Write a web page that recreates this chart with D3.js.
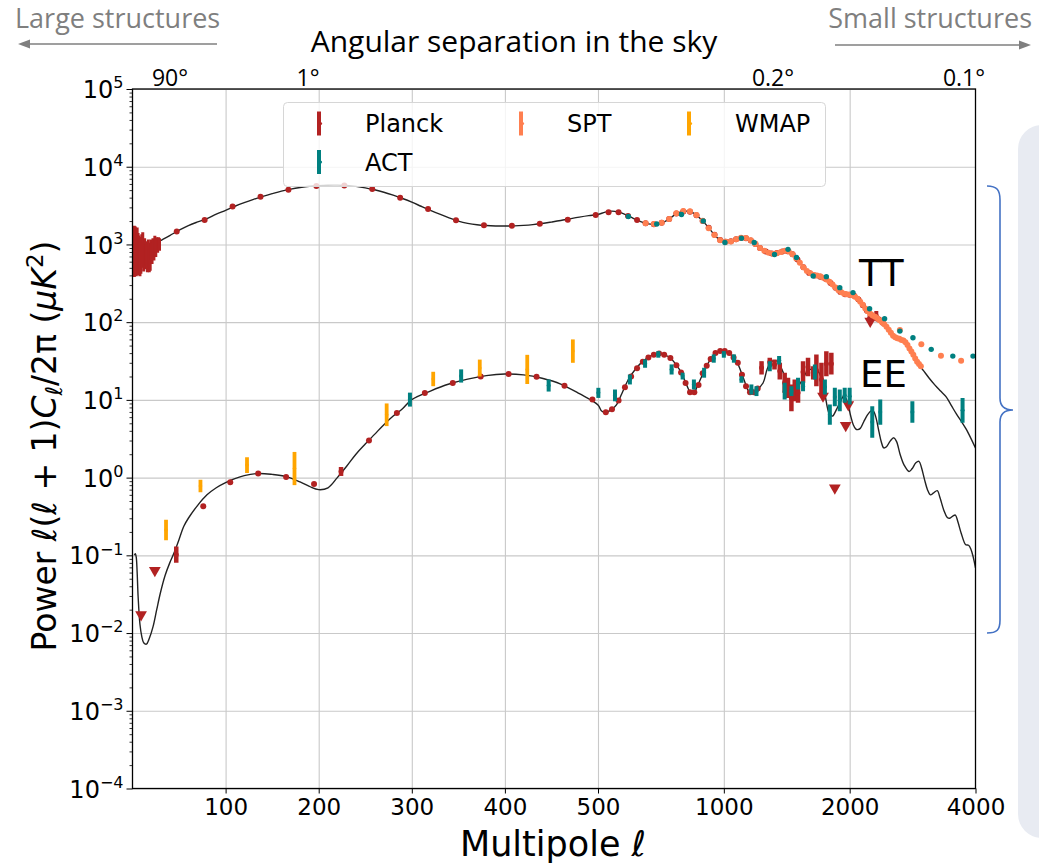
<!DOCTYPE html>
<html>
<head>
<meta charset="utf-8">
<script src="https://cdn.jsdelivr.net/npm/d3@7"></script>
<style>
	body { margin: 0; background: #fff; }
	svg { display: block; }
</style>
</head>
<body>
<svg id="chart" width="1039" height="865"></svg>
<script>
'use strict';

// ---- theory curves: [multipole l, D_l (uK^2)]
var ttTheory = [[2,1380],[3,1200],[4,1080],[6,1010],[8,980],[10,960],[15,970],[20,1010],[25,1060],[30,1120],[40,1300],[50,1520],[60,1750],[70,1950],[80,2150],[90,2450],[100,2750],[110,3100],[120,3450],[130,3800],[140,4150],[150,4500],[160,4850],[170,5150],[180,5400],[190,5600],[200,5720],[210,5780],[220,5790],[230,5730],[240,5580],[250,5350],[260,5050],[270,4700],[280,4300],[290,3900],[300,3500],[310,3100],[320,2750],[330,2450],[340,2200],[350,2000],[360,1870],[370,1790],[380,1750],[390,1730],[400,1725],[410,1735],[420,1760],[430,1800],[440,1860],[450,1940],[460,2030],[470,2140],[480,2250],[490,2350],[500,2430],[520,2600],[540,2680],[560,2600],[580,2440],[600,2240],[620,2060],[640,1920],[660,1840],[680,1820],[700,1850],[720,1950],[740,2130],[760,2360],[780,2560],[800,2660],[820,2680],[840,2580],[860,2380],[880,2130],[900,1880],[920,1640],[940,1420],[960,1250],[980,1140],[1000,1090],[1020,1080],[1040,1100],[1060,1150],[1080,1190],[1100,1210],[1120,1210],[1140,1180],[1160,1120],[1180,1050],[1200,970],[1230,880],[1260,810],[1290,770],[1320,760],[1350,780],[1380,810],[1410,830],[1440,800],[1470,730],[1500,640],[1540,530],[1580,450],[1620,410],[1660,395],[1700,385],[1740,370],[1780,340],[1820,300],[1860,270],[1900,245],[1940,230],[1980,225],[2020,225],[2060,215],[2100,195],[2150,165],[2200,140],[2250,125],[2300,115],[2350,108],[2400,98],[2450,86],[2500,75],[2550,66],[2600,62],[2650,60],[2700,57],[2750,50],[2800,43],[2850,37],[2900,31],[2950,27],[3000,24],[3100,19],[3200,15.5],[3300,13],[3400,11],[3500,8.5],[3600,6.6],[3700,5.3],[3800,4.2],[3900,3.2],[4000,2.4]];

var eeTheory = [[2,0.1],[3,0.105],[4,0.095],[5,0.06],[6,0.03],[8,0.013],[10,0.009],[12,0.0075],[15,0.0072],[18,0.0085],[22,0.012],[26,0.02],[30,0.033],[35,0.055],[40,0.08],[45,0.11],[50,0.16],[55,0.235],[60,0.3],[70,0.44],[80,0.6],[90,0.74],[100,0.86],[110,0.97],[120,1.06],[135,1.13],[150,1.1],[165,1.03],[180,0.88],[190,0.77],[200,0.7],[210,0.74],[220,1.0],[230,1.4],[240,2.0],[250,2.7],[260,3.6],[270,4.8],[280,6.2],[290,7.7],[300,10.1],[320,13],[340,16],[360,18.5],[380,20.5],[400,21.5],[420,21],[440,19],[460,16],[480,12],[500,8.6],[510,7.2],[522,6.9],[540,7.6],[554,8.7],[570,12],[591,18.3],[615,25],[641,31.5],[670,37],[697,39.6],[720,38],[744,34.9],[770,28],[792,22.3],[815,15.5],[834,12.3],[850,12.4],[861,14.3],[885,20],[909,27.2],[935,35],[957,40.5],[985,42.5],[1012,42.5],[1040,38],[1072,31.5],[1110,20],[1135,14.5],[1153,12.3],[1190,13],[1241,16.5],[1270,25],[1299,31],[1330,32],[1346,31],[1380,24],[1410,18.3],[1450,14.3],[1492,14.3],[1540,18],[1580,23],[1620,25],[1680,23.4],[1730,15],[1790,6.5],[1820,6.2],[1859,7.5],[1900,9.5],[1937,11.2],[1960,10.5],[1985,8.5],[2010,6.3],[2040,4.8],[2070,4.2],[2090,4.15],[2120,4.3],[2160,5.2],[2210,6.5],[2250,7.2],[2279,7.2],[2310,6.0],[2350,3.9],[2380,2.9],[2413,2.41],[2450,2.5],[2500,2.95],[2550,3.25],[2590,2.9],[2640,2.0],[2700,1.45],[2774,1.2],[2820,1.3],[2880,1.55],[2930,1.62],[2970,1.35],[3020,0.95],[3070,0.7],[3120,0.6],[3170,0.63],[3240,0.68],[3290,0.55],[3360,0.38],[3420,0.31],[3470,0.3],[3530,0.32],[3580,0.33],[3630,0.27],[3700,0.19],[3790,0.137],[3850,0.135],[3900,0.12],[3950,0.095],[4000,0.069]];

// ---- Planck
// low-l TT: [l, value, low, high]
var planckLowTT = [[2,900,380,1740],[3,1000,420,1700],[4,700,390,1500],[5,1100,500,1650],[6,800,400,1400],[7,900,450,1300],[8,700,390,1200],[9,800,420,1250],[10,900,500,1350],[11,1000,560,1430],[12,750,450,1100],[13,850,510,1200],[14,700,480,1000],[15,800,520,1100],[16,650,440,1000],[17,850,560,1160],[18,750,440,1050],[19,700,460,980],[20,900,640,1160],[21,750,560,1050],[22,850,660,1200],[23,800,620,1100],[24,950,700,1290],[25,900,690,1150],[26,1000,800,1240],[27,950,780,1180],[28,1050,850,1240],[29,1000,830,1200]];
var planckTT = [[47.5,1466],[77.5,2070],[107.5,3080],[137.5,4100],[167.5,5050],[197.5,5650],[227.5,5750],[257.5,5150],[287.5,4000],[317.5,2850],[347.5,2050],[377.5,1760],[407.5,1735],[437.5,1840],[467.5,2080],[497.5,2400],[530,2600],[560,2600],[590,2330],[620,2060],[650,1870],[680,1820],[710,1900],[740,2130],[770,2500],[800,2660],[830,2640],[860,2380],[890,2000],[920,1640],[950,1330],[980,1140],[1010,1085],[1040,1100],[1070,1170],[1100,1210],[1130,1200],[1160,1120],[1190,1010],[1220,900],[1260,810],[1300,765],[1340,775],[1380,810],[1420,820],[1460,750],[1500,640],[1550,510],[1600,430],[1650,398],[1700,385],[1750,362],[1800,320],[1850,277],[1900,245],[1950,228],[2000,225],[2050,218],[2100,195],[2150,165],[2200,140],[2250,125],[2300,118],[2350,108],[2400,98]];
var planckTTBars = [[2232,99,126],[2316,103,139]];
var planckTTLimits = [[2240,103]];
var planckEE = [[76,0.427],[105,0.87],[135,1.13],[165,1.02],[195,0.83],[254,3.0],[284,6.8],[314,12.3],[344,16.5],[374,20],[404,21.5],[434,19.8],[464,15.2],[494,10.1],[522,6.95],[540,7.6],[560,9.8],[580,14.5],[600,20],[620,25.5],[640,31],[660,35],[680,38],[700,39.5],[720,38],[745,34.5],[770,28],[790,22.5],[810,16.5],[830,12.5],[850,12.5],[870,15.5],[890,22],[910,27.5],[930,33.5],[955,40],[980,42.5],[1005,42.5],[1030,40],[1055,35],[1080,30],[1105,21],[1130,15],[1155,12.5],[1180,12.5],[1205,14]];
// EE with visible error bars: [l, low, high]
var planckEEBars = [[47,0.08,0.13],[224,1.05,1.37],[1231,21.2,31.5],[1288,27.1,34.9],[1322,24.6,33.2],[1361,18.3,30.1],[1398,12.3,22.4],[1424,10.6,19.3],[1451,7.15,15.8],[1478,9.6,18.3],[1505,9.2,16.6],[1547,16.6,31.5],[1590,20.2,34.9],[1636,18.3,27.1],[1665,15.0,38.5],[1712,11.2,30.1],[1759,20.2,42.4],[1808,21.2,40.4]];
var planckEELimits = [[9.2,0.0172],[24,0.064],[1727,11.2],[1843,0.737],[1957,4.68],[1985,8.7]];

// ---- SPT TT
var sptTT = [[650,1880],[680,1830],[710,1900],[740,2130],[770,2520],[800,2700],[830,2680],[860,2400],[890,2020],[920,1620],[950,1320],[980,1130],[1010,1080],[1040,1090],[1070,1170],[1100,1220],[1130,1210],[1160,1130],[1190,1010],[1220,900],[1250,830],[1280,780],[1310,760],[1340,770],[1370,800],[1400,830],[1430,810],[1460,750],[1490,660],[1520,580],[1550,510],[1580,455],[1610,425],[1640,405],[1670,398],[1700,390],[1730,372],[1760,355],[1790,330],[1820,305],[1850,280],[1880,258],[1910,242],[1940,232],[1970,228],[2000,226],[2030,222],[2060,212],[2090,200],[2120,183],[2150,168],[2180,150],[2210,138],[2240,128],[2270,122],[2300,117],[2330,112],[2360,106],[2390,100],[2420,94],[2450,87],[2480,80],[2510,73],[2540,67],[2570,64],[2600,62],[2630,61],[2660,59],[2690,58],[2720,55],[2750,51],[2780,46],[2810,42],[2840,38],[2870,34],[2900,31],[2930,29],[2960,27],[2637,79],[2968,52],[3307,37],[3695,32]];

// ---- ACT
var actTT = [[591,2290],[691,1830],[792,2430],[893,2000],[1006,1060],[1102,1200],[1182,1060],[1322,743],[1424,865],[1492,680],[1636,393],[1759,385],[1894,278],[2037,240],[2232,149],[2424,111],[2637,76.8],[2834,63],[3134,44.7],[3530,36.6],[3945,36.6]];
var actEE = [[298,8.2,12.4],[353,16.7,24.7],[447,12.8,18.3],[501,10.6,14.3],[549,9.6,13.6],[596,15.8,21.2],[648,25.9,33.2],[697,34.9,42.4],[750,21.2,28.6],[797,18.3,22.4],[848,13.6,18.3],[897,19.3,25.9],[946,30.1,38.5],[1000,34.9,42.4],[1057,30.1,38.5],[1102,16.6,20.2],[1164,11.7,15.8],[1197,11.2,15.0],[1288,23.4,31.5],[1356,28.6,36.6],[1398,10.1,16.6],[1451,11.2,15.0],[1505,13.6,19.3],[1547,12.9,17.4],[1651,18.3,28.6],[1745,11.7,18.3],[1793,4.8,8.7],[1843,8.3,14.3],[1894,7.15,13.6],[1946,9.2,14.3],[2000,8.7,14.3],[2265,3.25,8.3],[2367,4.8,10.1],[2825,5.07,9.6],[3725,5.07,10.6]];

// ---- WMAP EE
var wmapEE = [[36,0.156,0.288],[73,0.65,0.94],[123,1.15,1.83],[174,0.8,2.14],[273,4.6,9.0],[323,15,23],[373,20,33],[424,16,38],[473,30,60]];

// ---- ticks and labels
var xTicksLin = [100, 200, 300, 400, 500];
var xTicksLog = [1000, 2000, 4000];
var yDecades = [-4, -3, -2, -1, 0, 1, 2, 3, 4, 5];
var angleLabels = [
	{ text: "90°", x: 170 },
	{ text: "1°", x: 308 },
	{ text: "0.2°", x: 773 },
	{ text: "0.1°", x: 964 }
];
var legendItems = [
	{ name: "Planck", color: "#b22222", col: 0, row: 0 },
	{ name: "SPT", color: "#ff7f50", col: 1, row: 0 },
	{ name: "WMAP", color: "#ffa500", col: 2, row: 0 },
	{ name: "ACT", color: "#008080", col: 0, row: 1 }
];

var PLANCK_COLOR = "#b22222";
var SPT_COLOR = "#ff7f50";
var WMAP_COLOR = "#ffa500";
var ACT_COLOR = "#008080";

var PLOT_LEFT = 132.5;
var PLOT_RIGHT = 975.5;
var PLOT_TOP = 89;
var PLOT_BOTTOM = 788.5;
var X_BREAK = 598;

var FONT_MPL = "'DejaVu Sans', sans-serif";
var FONT_SLIDE = "'Open Sans', sans-serif";

var svg = d3.select("#chart");

// linear up to l=500, log beyond (Planck style)
var xLin = d3.scaleLinear().domain([0, 500]).range([PLOT_LEFT, X_BREAK]);
var xLog = d3.scaleLog().domain([500, 4000]).range([X_BREAK, PLOT_RIGHT]);
function xScale(l) {
	return l <= 500 ? xLin(l) : xLog(l);
}
var yScale = d3.scaleLog().domain([1e-4, 1e5]).range([PLOT_BOTTOM, PLOT_TOP]);

// right side panel + brace
svg.append("rect")
	.attr("x", 1018)
	.attr("y", 125)
	.attr("width", 70)
	.attr("height", 713)
	.attr("rx", 24)
	.style("fill", "#e8ebf2");

svg.append("path")
	.attr("d", "M987,186 C997,186 1000,190 1000,200 L1000,398 C1000,406 1004,410 1013,410 C1004,410 1000,414 1000,422 L1000,620 C1000,630 997,633 987,633")
	.style("fill", "none")
	.style("stroke", "#4472c4")
	.style("stroke-width", 1.6);

// ---- grid
var grid = svg.append("g").attr("class", "grid");

grid.append("g")
	.attr("transform", "translate(0," + PLOT_BOTTOM + ")")
	.call(d3.axisBottom(xLin).tickValues(xTicksLin).tickSize(-(PLOT_BOTTOM - PLOT_TOP)).tickFormat(""));
grid.append("g")
	.attr("transform", "translate(0," + PLOT_BOTTOM + ")")
	.call(d3.axisBottom(xLog).tickValues(xTicksLog.slice(0, 2)).tickSize(-(PLOT_BOTTOM - PLOT_TOP)).tickFormat(""));
grid.append("g")
	.attr("transform", "translate(" + PLOT_LEFT + ",0)")
	.call(d3.axisLeft(yScale).tickValues(yDecades.map(function (e) { return Math.pow(10, e); }))
		.tickSize(-(PLOT_RIGHT - PLOT_LEFT)).tickFormat(""));
grid.selectAll(".domain").remove();
grid.selectAll("line")
	.style("stroke", "#c9c9c9")
	.style("stroke-width", 1.1);

// ---- clip for data
svg.append("clipPath")
	.attr("id", "plot-clip")
	.append("rect")
	.attr("x", PLOT_LEFT)
	.attr("y", PLOT_TOP)
	.attr("width", PLOT_RIGHT - PLOT_LEFT)
	.attr("height", PLOT_BOTTOM - PLOT_TOP);

var plot = svg.append("g").attr("clip-path", "url(#plot-clip)");

var line = d3.line()
	.x(function (d) { return xScale(d[0]); })
	.y(function (d) { return yScale(d[1]); })
	.curve(d3.curveCatmullRom.alpha(0.5));

plot.append("path")
	.datum(ttTheory)
	.attr("d", line)
	.style("fill", "none")
	.style("stroke", "#222")
	.style("stroke-width", 1.4);

plot.append("path")
	.datum(eeTheory)
	.attr("d", line)
	.style("fill", "none")
	.style("stroke", "#222")
	.style("stroke-width", 1.4);

function drawBars(data, color, width, loIdx, hiIdx) {
	plot.append("g")
		.selectAll("line")
		.data(data)
		.enter()
		.append("line")
		.attr("x1", function (d) { return xScale(d[0]); })
		.attr("x2", function (d) { return xScale(d[0]); })
		.attr("y1", function (d) { return yScale(d[loIdx]); })
		.attr("y2", function (d) { return yScale(d[hiIdx]); })
		.style("stroke", color)
		.style("stroke-width", width);
}

function drawDots(data, color, r, valueFn) {
	plot.append("g")
		.selectAll("circle")
		.data(data)
		.enter()
		.append("circle")
		.attr("cx", function (d) { return xScale(d[0]); })
		.attr("cy", function (d) { return yScale(valueFn ? valueFn(d) : d[1]); })
		.attr("r", r)
		.style("fill", color);
}

function drawLimits(data, color) {
	plot.append("g")
		.selectAll("path")
		.data(data)
		.enter()
		.append("path")
		.attr("d", d3.symbol().type(d3.symbolTriangle).size(60))
		.attr("transform", function (d) {
			return "translate(" + xScale(d[0]) + "," + yScale(d[1]) + ") rotate(180)";
		})
		.style("fill", color);
}

function midValue(d) {
	return Math.sqrt(d[1] * d[2]);
}

// Planck
drawBars(planckLowTT, PLANCK_COLOR, 3, 2, 3);
drawDots(planckTT, PLANCK_COLOR, 3);
drawBars(planckTTBars, PLANCK_COLOR, 4, 1, 2);
drawDots(planckTTBars, PLANCK_COLOR, 2.5, midValue);
drawLimits(planckTTLimits, PLANCK_COLOR);
drawDots(planckEE, PLANCK_COLOR, 3);
drawBars(planckEEBars, PLANCK_COLOR, 4.5, 1, 2);
drawDots(planckEEBars, PLANCK_COLOR, 2.5, midValue);
drawLimits(planckEELimits, PLANCK_COLOR);

// SPT
drawDots(sptTT, SPT_COLOR, 3);

// WMAP
drawBars(wmapEE, WMAP_COLOR, 3.8, 1, 2);
drawDots(wmapEE, WMAP_COLOR, 1.8, midValue);

// ACT
drawDots(actTT, ACT_COLOR, 2.7);
drawBars(actEE, ACT_COLOR, 4, 1, 2);
drawDots(actEE, ACT_COLOR, 2, midValue);

// ---- axes
var xAxisLin = svg.append("g")
	.attr("transform", "translate(0," + PLOT_BOTTOM + ")")
	.call(d3.axisBottom(xLin).tickValues(xTicksLin).tickSize(5).tickPadding(5).tickFormat(d3.format("d")));
var xAxisLog = svg.append("g")
	.attr("transform", "translate(0," + PLOT_BOTTOM + ")")
	.call(d3.axisBottom(xLog).tickValues(xTicksLog).tickSize(5).tickPadding(5).tickFormat(d3.format("d")));

[xAxisLin, xAxisLog].forEach(function (ax) {
	ax.select(".domain").remove();
	ax.selectAll("text")
		.style("font-family", FONT_MPL)
		.style("font-size", "23px")
		.style("fill", "#000");
	ax.selectAll("line").style("stroke", "#000");
});

var yMinor = [];
yDecades.forEach(function (e) {
	if (e === 5) return;
	for (var k = 2; k <= 9; k++) {
		yMinor.push(k * Math.pow(10, e));
	}
});

var yAxisMinor = svg.append("g")
	.attr("transform", "translate(" + PLOT_LEFT + ",0)")
	.call(d3.axisLeft(yScale).tickValues(yMinor).tickSize(3).tickFormat(""));
yAxisMinor.select(".domain").remove();
yAxisMinor.selectAll("line").style("stroke", "#000").style("stroke-width", 0.8);

var yAxis = svg.append("g")
	.attr("transform", "translate(" + PLOT_LEFT + ",0)")
	.call(d3.axisLeft(yScale)
		.tickValues(yDecades.map(function (e) { return Math.pow(10, e); }))
		.tickSize(6)
		.tickFormat(""));
yAxis.select(".domain").remove();
yAxis.selectAll("line").style("stroke", "#000");

var yLabels = svg.append("g")
	.selectAll("text")
	.data(yDecades)
	.enter()
	.append("text")
	.attr("x", PLOT_LEFT - 9)
	.attr("y", function (d) { return yScale(Math.pow(10, d)); })
	.attr("text-anchor", "end")
	.style("font-family", FONT_MPL)
	.style("font-size", "24px")
	.style("fill", "#000");

yLabels.append("tspan")
	.attr("dy", "0.38em")
	.text("10");
yLabels.append("tspan")
	.attr("dy", "-0.62em")
	.style("font-size", "16px")
	.text(function (d) { return d < 0 ? "\u2212" + (-d) : String(d); });

// frame
svg.append("rect")
	.attr("x", PLOT_LEFT)
	.attr("y", PLOT_TOP)
	.attr("width", PLOT_RIGHT - PLOT_LEFT)
	.attr("height", PLOT_BOTTOM - PLOT_TOP)
	.style("fill", "none")
	.style("stroke", "#000")
	.style("stroke-width", 1.3);

// ---- legend
var legend = svg.append("g").attr("class", "legend");

legend.append("rect")
	.attr("x", 283.5)
	.attr("y", 102.5)
	.attr("width", 542)
	.attr("height", 84)
	.attr("rx", 4)
	.style("fill", "rgba(255,255,255,0.8)")
	.style("stroke", "#d6d6d6")
	.style("stroke-width", 1);

var LEGEND_COL_X = [319, 521, 689];
var LEGEND_ROW_Y = [123.5, 162];

var legendEntry = legend.selectAll(".legend-entry")
	.data(legendItems)
	.enter()
	.append("g")
	.classed("legend-entry", 1)
	.attr("transform", function (d) {
		return "translate(" + LEGEND_COL_X[d.col] + "," + LEGEND_ROW_Y[d.row] + ")";
	});

legendEntry.append("line")
	.attr("x1", 0)
	.attr("x2", 0)
	.attr("y1", -12)
	.attr("y2", 12)
	.style("stroke", function (d) { return d.color; })
	.style("stroke-width", 4);

legendEntry.append("circle")
	.attr("cx", 1.5)
	.attr("cy", 0)
	.attr("r", 1.6)
	.style("fill", function (d) { return d.color; });

legendEntry.append("text")
	.attr("x", 46)
	.attr("y", 8.5)
	.style("font-family", FONT_MPL)
	.style("font-size", "24px")
	.style("fill", "#000")
	.text(function (d) { return d.name; });

// ---- curve labels
svg.append("text")
	.attr("x", 859)
	.attr("y", 286)
	.style("font-family", FONT_MPL)
	.style("font-size", "37px")
	.text("TT");
svg.append("text")
	.attr("x", 860)
	.attr("y", 387)
	.style("font-family", FONT_MPL)
	.style("font-size", "37px")
	.text("EE");

// ---- axis titles
var xTitle = svg.append("text")
	.attr("x", 553)
	.attr("y", 856)
	.attr("text-anchor", "middle")
	.style("font-family", FONT_MPL)
	.style("font-size", "35px");
xTitle.append("tspan").text("Multipole ");
xTitle.append("tspan").style("font-style", "italic").text("\u2113");

var yTitle = svg.append("text")
	.attr("transform", "translate(56,446) rotate(-90)")
	.attr("text-anchor", "middle")
	.style("font-family", FONT_MPL)
	.style("font-size", "33px");
yTitle.append("tspan").text("Power ");
yTitle.append("tspan").style("font-style", "italic").text("\u2113");
yTitle.append("tspan").text("(");
yTitle.append("tspan").style("font-style", "italic").text("\u2113");
yTitle.append("tspan").text(" + 1)");
yTitle.append("tspan").style("font-style", "italic").text("C");
yTitle.append("tspan").style("font-style", "italic").style("font-size", "23px").attr("dy", 6).text("\u2113");
yTitle.append("tspan").attr("dy", -6).text("/2\u03c0 (");
yTitle.append("tspan").style("font-style", "italic").text("\u03bcK");
yTitle.append("tspan").style("font-size", "23px").attr("dy", -13).text("2");
yTitle.append("tspan").attr("dy", 13).text(")");

// ---- top annotations
svg.append("text")
	.attr("x", 514)
	.attr("y", 52)
	.attr("text-anchor", "middle")
	.style("font-family", FONT_SLIDE)
	.style("font-size", "30px")
	.style("fill", "#000")
	.text("Angular separation in the sky");

svg.append("g")
	.selectAll("text")
	.data(angleLabels)
	.enter()
	.append("text")
	.attr("x", function (d) { return d.x; })
	.attr("y", 86)
	.attr("text-anchor", "middle")
	.style("font-family", FONT_SLIDE)
	.style("font-size", "23px")
	.style("fill", "#000")
	.text(function (d) { return d.text; });

svg.append("text")
	.attr("x", 15)
	.attr("y", 28)
	.style("font-family", FONT_SLIDE)
	.style("font-size", "27px")
	.style("fill", "#7f7f7f")
	.text("Large structures");

svg.append("text")
	.attr("x", 1032)
	.attr("y", 28)
	.attr("text-anchor", "end")
	.style("font-family", FONT_SLIDE)
	.style("font-size", "27px")
	.style("fill", "#7f7f7f")
	.text("Small structures");

function arrow(x1, x2, y) {
	var dir = x2 > x1 ? 1 : -1;
	svg.append("line")
		.attr("x1", x1)
		.attr("x2", x2 - dir * 8)
		.attr("y1", y)
		.attr("y2", y)
		.style("stroke", "#7f7f7f")
		.style("stroke-width", 1.6);
	svg.append("path")
		.attr("d", "M" + x2 + "," + y + " L" + (x2 - dir * 12) + "," + (y - 4.5) + " L" + (x2 - dir * 12) + "," + (y + 4.5) + " Z")
		.style("fill", "#7f7f7f");
}
arrow(217, 18, 44);
arrow(835, 1031, 45);
</script>
</body>
</html>
